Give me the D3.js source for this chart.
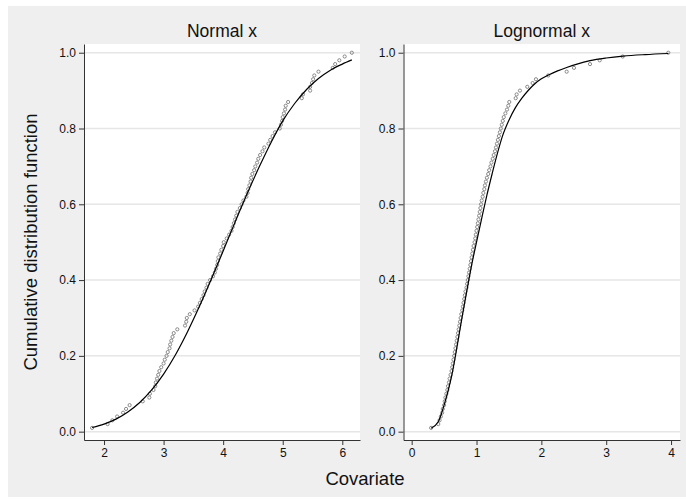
<!DOCTYPE html>
<html>
<head>
<meta charset="utf-8">
<script src="https://d3js.org/d3.v7.min.js"></script>
<style>
  body { margin: 0; background: #fff; }
  svg { display: block; font-family: "Liberation Sans", Arial, Helvetica, sans-serif; }
</style>
</head>
<body>
<svg id="chart" width="686" height="502"></svg>
<script>
// empirical cdf steps (shared by both panels, 100 obs each)
var empiricalCdf = [
  0.01,0.02,0.03,0.04,0.05,0.06,0.07,0.08,0.09,0.10,
  0.11,0.12,0.13,0.14,0.15,0.16,0.17,0.18,0.19,0.20,
  0.21,0.22,0.23,0.24,0.25,0.26,0.27,0.28,0.29,0.30,
  0.31,0.32,0.33,0.34,0.35,0.36,0.37,0.38,0.39,0.40,
  0.41,0.42,0.43,0.44,0.45,0.46,0.47,0.48,0.49,0.50,
  0.51,0.52,0.53,0.54,0.55,0.56,0.57,0.58,0.59,0.60,
  0.61,0.62,0.63,0.64,0.65,0.66,0.67,0.68,0.69,0.70,
  0.71,0.72,0.73,0.74,0.75,0.76,0.77,0.78,0.79,0.80,
  0.81,0.82,0.83,0.84,0.85,0.86,0.87,0.88,0.89,0.90,
  0.91,0.92,0.93,0.94,0.95,0.96,0.97,0.98,0.99,1.00
];

// sorted covariate values, normal x
var normalX = [
  1.80,2.06,2.14,2.22,2.32,2.37,2.43,2.65,2.76,2.77,
  2.83,2.86,2.87,2.89,2.91,2.93,2.96,3.00,3.02,3.05,
  3.07,3.10,3.11,3.13,3.15,3.17,3.23,3.36,3.38,3.39,
  3.44,3.52,3.58,3.61,3.64,3.67,3.69,3.72,3.74,3.78,
  3.83,3.86,3.88,3.90,3.91,3.92,3.95,3.97,4.00,4.01,
  4.06,4.10,4.14,4.16,4.18,4.20,4.22,4.24,4.28,4.31,
  4.34,4.39,4.41,4.42,4.44,4.46,4.47,4.49,4.52,4.54,
  4.57,4.59,4.62,4.66,4.69,4.76,4.79,4.83,4.87,4.95,
  4.97,4.99,5.00,5.02,5.04,5.05,5.09,5.32,5.34,5.46,
  5.46,5.49,5.51,5.53,5.60,5.84,5.88,5.95,6.04,6.16
];

// sorted covariate values, lognormal x
var lognormX = [
  0.30,0.41,0.43,0.45,0.47,0.48,0.50,0.51,0.52,0.535,
  0.55,0.56,0.575,0.585,0.60,0.615,0.625,0.635,0.645,0.655,
  0.665,0.675,0.685,0.695,0.705,0.715,0.725,0.735,0.745,0.755,
  0.765,0.78,0.79,0.80,0.81,0.82,0.83,0.845,0.855,0.865,
  0.875,0.885,0.895,0.905,0.915,0.925,0.935,0.945,0.955,0.97,
  0.98,0.99,1.00,1.01,1.02,1.03,1.04,1.05,1.06,1.07,
  1.08,1.095,1.105,1.12,1.13,1.145,1.16,1.18,1.195,1.215,
  1.23,1.25,1.265,1.285,1.30,1.315,1.33,1.345,1.36,1.375,
  1.39,1.405,1.42,1.445,1.47,1.49,1.505,1.604,1.619,1.67,
  1.783,1.866,1.917,2.106,2.39,2.503,2.75,2.90,3.254,3.957
];

// fitted cdf curves
var normalFitX = [1.80,2.00,2.20,2.40,2.60,2.80,3.00,3.20,3.40,3.60,3.80,4.00,4.20,4.40,4.60,4.80,5.00,5.20,5.40,5.60,5.80,6.00,6.16];
var normalFitY = [0.011,0.020,0.033,0.052,0.077,0.110,0.152,0.203,0.263,0.330,0.402,0.477,0.553,0.627,0.697,0.762,0.820,0.866,0.903,0.932,0.954,0.970,0.981];

var lognormFitX = [0.30,0.41,0.46,0.51,0.565,0.62,0.67,0.72,0.77,0.82,0.87,0.925,1.00,1.08,1.16,1.24,1.32,1.40,1.50,1.60,1.70,1.80,1.90,2.00,2.11,2.25,2.39,2.55,2.75,3.00,3.26,3.60,3.96];
var lognormFitY = [0.009,0.026,0.048,0.076,0.110,0.150,0.195,0.245,0.295,0.343,0.390,0.440,0.500,0.563,0.624,0.680,0.733,0.780,0.822,0.855,0.880,0.901,0.918,0.931,0.941,0.952,0.961,0.970,0.979,0.986,0.991,0.995,0.998];

var yTicks = [0, 0.2, 0.4, 0.6, 0.8, 1.0];
var normalTicks = [2, 3, 4, 5, 6];
var lognormTicks = [0, 1, 2, 3, 4];

var svg = d3.select("#chart");

// graph region
svg.append("rect")
  .attr("x", 8).attr("y", 6)
  .attr("width", 678).attr("height", 491)
  .attr("fill", "#efefef");

var y = d3.scaleLinear().domain([-0.022, 1.023]).range([440, 44]);

function drawPanel(opt) {
  var x = d3.scaleLinear().domain(opt.domain).range([opt.left, opt.right]);
  var g = svg.append("g");

  g.append("rect")
    .attr("x", opt.left).attr("y", 44)
    .attr("width", opt.right - opt.left).attr("height", 396)
    .attr("fill", "#fff");

  // gridlines
  g.selectAll("line.grid")
    .data(yTicks)
    .enter().append("line")
      .attr("class", "grid")
      .attr("x1", opt.left).attr("x2", opt.right)
      .attr("y1", function(d) { return y(d); })
      .attr("y2", function(d) { return y(d); })
      .attr("stroke", "#e6e6e6")
      .attr("stroke-width", 1.5);

  // empirical points
  g.selectAll("circle")
    .data(opt.xs)
    .enter().append("circle")
      .attr("cx", function(d) { return x(d); })
      .attr("cy", function(d, i) { return y(empiricalCdf[i]); })
      .attr("r", 1.6)
      .attr("fill", "none")
      .attr("stroke", "#707070")
      .attr("stroke-width", 0.8);

  // fitted line
  var line = d3.line()
    .x(function(d) { return x(d[0]); })
    .y(function(d) { return y(d[1]); })
    .curve(d3.curveMonotoneX);

  g.append("path")
    .datum(d3.zip(opt.fitX, opt.fitY))
    .attr("fill", "none")
    .attr("stroke", "#000")
    .attr("stroke-width", 1.2)
    .attr("d", line);

  // axes
  var ya = g.append("g")
    .attr("transform", "translate(" + opt.left + ",0)")
    .call(d3.axisLeft(y).tickValues(yTicks).tickFormat(d3.format(".1f")).tickSize(5).tickPadding(3).tickSizeOuter(0));
  var xa = g.append("g")
    .attr("transform", "translate(0,440)")
    .call(d3.axisBottom(x).tickValues(opt.ticks).tickFormat(d3.format("d")).tickSize(5).tickPadding(3).tickSizeOuter(0));

  [ya, xa].forEach(function(a) {
    a.select(".domain").attr("stroke", "#333");
    a.selectAll(".tick line").attr("stroke", "#333");
    a.selectAll("text").attr("fill", "#111").style("font-size", "12px")
      .style("font-family", "'Liberation Sans', Arial, Helvetica, sans-serif");
  });

  // panel title
  g.append("text")
    .attr("x", (opt.left + opt.right) / 2)
    .attr("y", 37)
    .attr("text-anchor", "middle")
    .style("font-size", "17.5px")
    .attr("fill", "#111")
    .text(opt.title);
}

drawPanel({ title: "Normal x", left: 84, right: 360, domain: [1.664, 6.297],
            ticks: normalTicks, xs: normalX, fitX: normalFitX, fitY: normalFitY });
drawPanel({ title: "Lognormal x", left: 403.5, right: 680, domain: [-0.126, 4.138],
            ticks: lognormTicks, xs: lognormX, fitX: lognormFitX, fitY: lognormFitY });

// axis titles
svg.append("text")
  .attr("transform", "translate(37,242) rotate(-90)")
  .attr("text-anchor", "middle")
  .style("font-size", "18.5px")
  .attr("fill", "#111")
  .text("Cumulative distribution function");

svg.append("text")
  .attr("x", 365).attr("y", 485)
  .attr("text-anchor", "middle")
  .style("font-size", "18.5px")
  .attr("fill", "#111")
  .text("Covariate");
</script>
</body>
</html>
